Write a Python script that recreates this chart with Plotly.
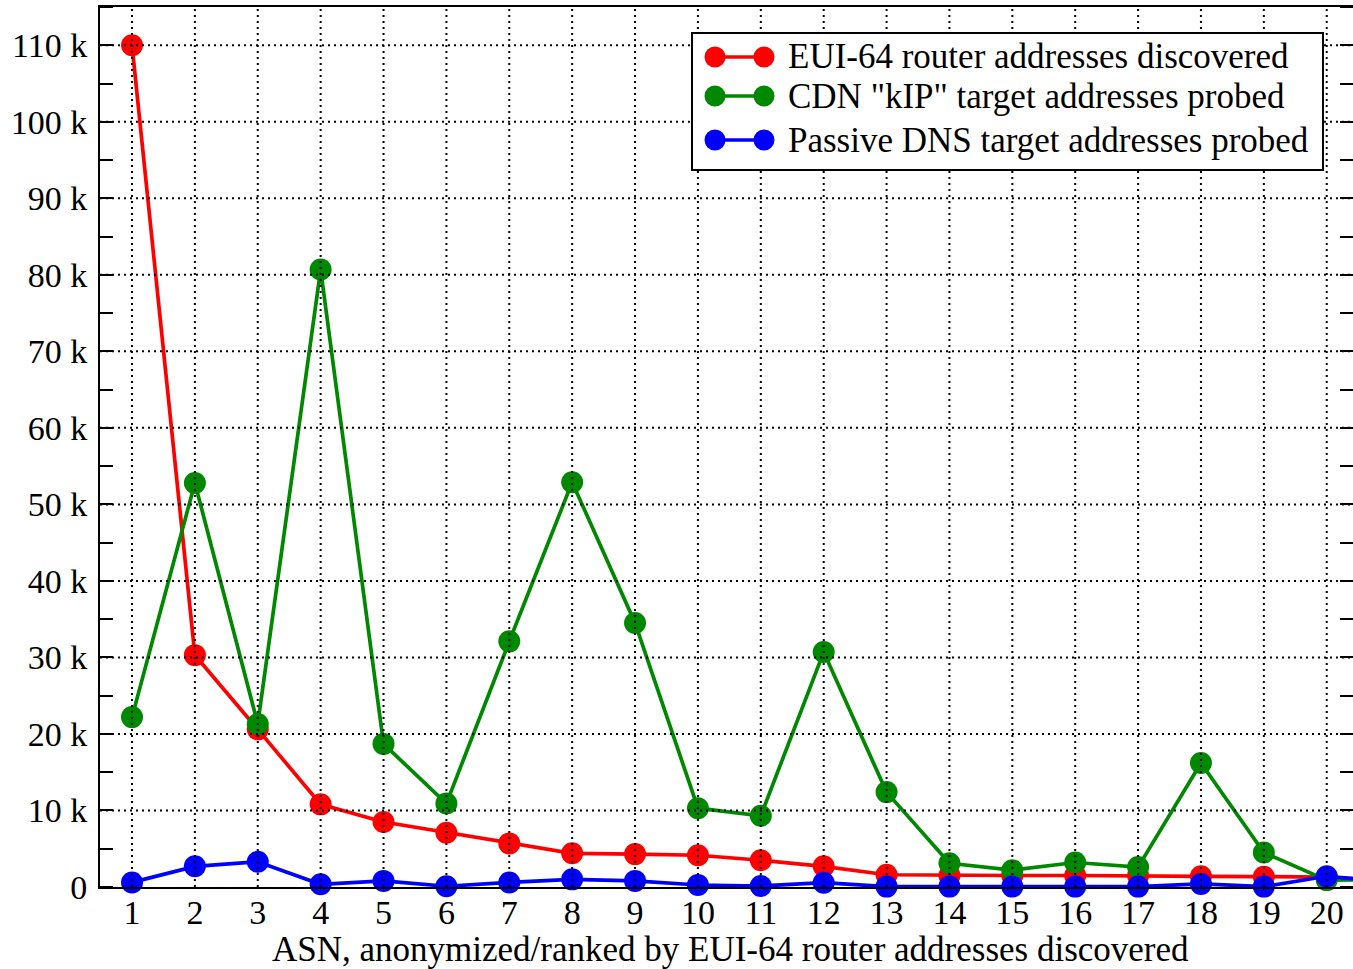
import plotly.graph_objects as go

# ---- data ----
asn = list(range(1, 22))
eui64_routers = [110000, 30300, 20600, 10800, 8500, 7100, 5700, 4400, 4300, 4150,
                 3500, 2700, 1600, 1500, 1500, 1500, 1500, 1400, 1350, 1300, 800]
cdn_kip = [22200, 52800, 21300, 80700, 18700, 10900, 32100, 52900, 34500, 10300,
           9300, 30700, 12400, 3100, 2200, 3200, 2600, 16200, 4500, 900, 1000]
passive_dns = [600, 2700, 3300, 350, 800, 100, 600, 1000, 800, 260,
               130, 560, 50, 50, 50, 50, 50, 400, 50, 1400, 700]

series_names = ['EUI-64 router addresses discovered',
                'CDN "kIP" target addresses probed',
                'Passive DNS target addresses probed']
series_colors = ['#ff0000', '#008800', '#0000ff']

x_ticks = list(range(1, 21))
y_ticks = list(range(0, 110001, 10000))
y_ticktext = ['0'] + [f'{v // 1000} k' for v in y_ticks[1:]]
x_title = 'ASN, anonymized/ranked by EUI-64 router addresses discovered'

FONT = 'Liberation Serif'
W, H = 1353, 969
L, R, T, B = 100, 0, 7, 82
PW, PH = W - L - R, H - T - B

fig = go.Figure()
for name, vals, col in zip(series_names, [eui64_routers, cdn_kip, passive_dns], series_colors):
    fig.add_trace(go.Scatter(
        x=asn, y=vals, name=name, mode='lines+markers',
        line=dict(color=col, width=3.7),
        marker=dict(color=col, size=22, line=dict(width=0)),
        cliponaxis=False, showlegend=False))

shapes = []
grid_dash = '2px,4px'
for xv in x_ticks:
    shapes.append(dict(type='line', xref='x', yref='paper', x0=xv, x1=xv, y0=0, y1=1,
                       line=dict(color='black', width=2, dash=grid_dash), layer='above'))
for yv in y_ticks[1:]:
    shapes.append(dict(type='line', xref='paper', yref='y', x0=0, x1=1, y0=yv, y1=yv,
                       line=dict(color='black', width=2, dash=grid_dash), layer='above'))

def px_x(p):
    return (p - L) / PW

def px_y(p):
    return (H - B - p) / PH

# custom legend box
shapes.append(dict(type='rect', xref='paper', yref='paper',
                   x0=px_x(692), x1=px_x(1323), y0=px_y(170), y1=px_y(33),
                   fillcolor='white', line=dict(color='black', width=2), layer='above'))
annotations = []
rows_y = [57, 96, 140]
for name, col, ry in zip(series_names, series_colors, rows_y):
    shapes.append(dict(type='line', xref='paper', yref='paper',
                       x0=px_x(715), x1=px_x(764), y0=px_y(ry), y1=px_y(ry),
                       line=dict(color=col, width=3.7), layer='above'))
    for cx in (715, 764):
        shapes.append(dict(type='circle', xref='paper', yref='paper',
                           xsizemode='pixel', ysizemode='pixel',
                           xanchor=px_x(cx), yanchor=px_y(ry),
                           x0=-10.5, x1=10.5, y0=-10.5, y1=10.5,
                           fillcolor=col, line=dict(color=col, width=0), layer='above'))
    annotations.append(dict(xref='paper', yref='paper', x=px_x(786), y=px_y(ry),
                            xanchor='left', yanchor='middle', showarrow=False,
                            text=name, font=dict(family=FONT, size=35, color='black')))

# x-axis title as annotation for exact placement
annotations.append(dict(xref='paper', yref='paper', x=px_x(730), y=px_y(949),
                        xanchor='center', yanchor='middle', showarrow=False,
                        text=x_title, font=dict(family=FONT, size=35, color='black')))

fig.update_layout(
    width=W, height=H,
    margin=dict(l=L, r=R, t=T, b=B, pad=0),
    paper_bgcolor='white', plot_bgcolor='white',
    font=dict(family=FONT, size=34, color='black'),
    shapes=shapes, annotations=annotations,
    xaxis=dict(range=[0.491, 20.418], tickmode='array', tickvals=x_ticks,
               ticktext=[str(v) for v in x_ticks], ticks='', showgrid=False,
               zeroline=False, showline=True, linecolor='black', linewidth=2,
               mirror=True, ticklabelstandoff=-6, automargin=False),
    yaxis=dict(range=[0, 115000], tickmode='array', tickvals=y_ticks,
               ticktext=y_ticktext, ticks='', showgrid=False, zeroline=False,
               showline=True, linecolor='black', linewidth=2, mirror='allticks',
               ticklabelstandoff=4, automargin=False,
               minor=dict(ticks='inside', ticklen=13, tickwidth=2, tickcolor='black',
                          dtick=5000, tick0=0, showgrid=False)),
)

fig.write_html('out.html', config={'displayModeBar': False},
               post_script="document.body.style.margin='0';document.body.style.overflow='hidden';")
